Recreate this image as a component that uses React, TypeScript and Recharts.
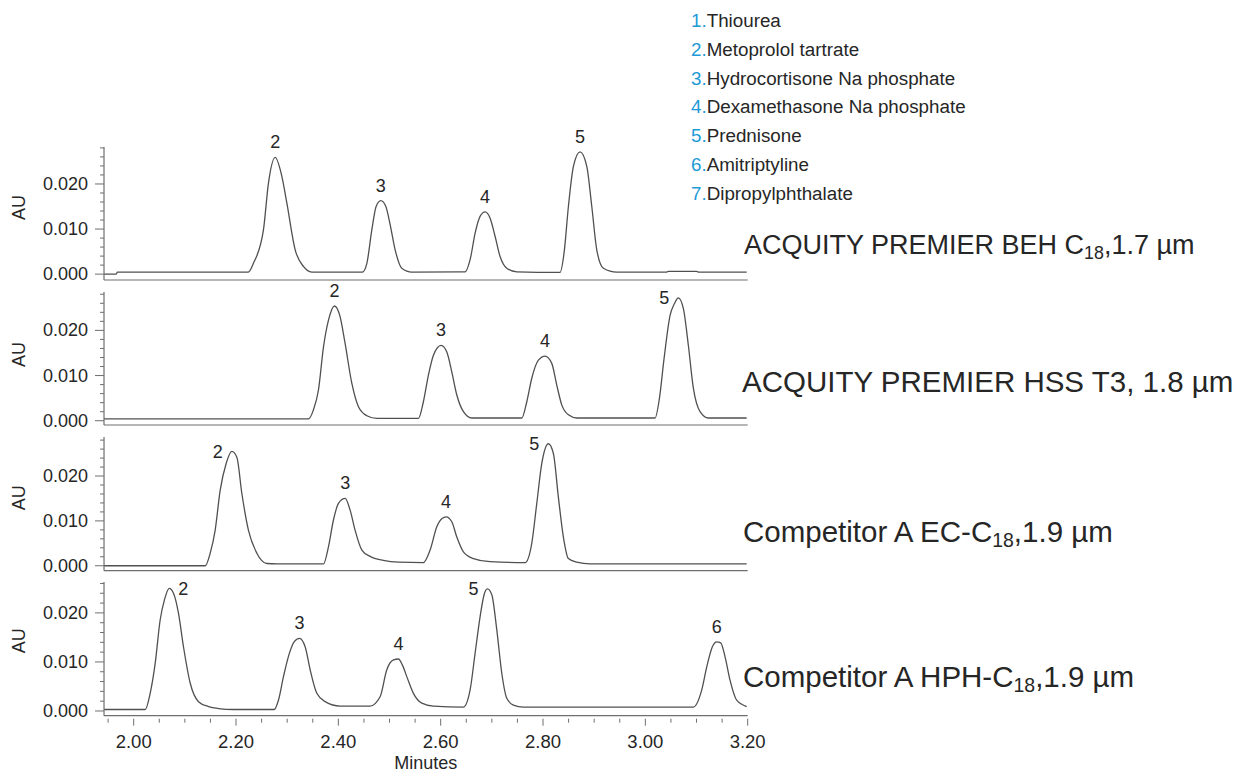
import { LineChart, Line, XAxis, YAxis, ReferenceDot, Label } from 'recharts';

// retention time axis (minutes)
const timeDomain = [1.942, 3.2];
const timeMajor = [2.0, 2.2, 2.4, 2.6, 2.8, 3.0, 3.2];
const timeTicks = [
  1.95, 2.0, 2.05, 2.1, 2.15, 2.2, 2.25, 2.3, 2.35, 2.4, 2.45, 2.5, 2.55, 2.6, 2.65,
  2.7, 2.75, 2.8, 2.85, 2.9, 2.95, 3.0, 3.05, 3.1, 3.15, 3.2,
];

// absorbance axis (AU)
const auMajor = [0, 0.01, 0.02];
const auTicks = [0, 0.002, 0.004, 0.006, 0.008, 0.01, 0.012, 0.014, 0.016, 0.018, 0.02, 0.022, 0.024, 0.026, 0.028];

const compounds = [
  'Thiourea',
  'Metoprolol tartrate',
  'Hydrocortisone Na phosphate',
  'Dexamethasone Na phosphate',
  'Prednisone',
  'Amitriptyline',
  'Dipropylphthalate',
];

// traces: [minutes, AU]
const behTrace = [
  [1.942, 0.0], [1.966, 0.0], [1.968, 0.00044], [2.224, 0.00044], [2.234, 0.0024], [2.2536, 0.0098],
  [2.2634, 0.0202], [2.2765, 0.0259], [2.2896, 0.0217], [2.2993, 0.0158], [2.3156, 0.0054], [2.3318, 0.0017],
  [2.348, 0.00044], [2.447, 0.00044], [2.4557, 0.0024], [2.4654, 0.0098], [2.4738, 0.015], [2.483, 0.0163],
  [2.4928, 0.015], [2.5012, 0.011], [2.511, 0.0054], [2.524, 0.0013], [2.5436, 0.00044], [2.6477, 0.0005],
  [2.6575, 0.0032], [2.6673, 0.0091], [2.677, 0.0128], [2.6868, 0.0138], [2.6966, 0.0124], [2.7063, 0.0084],
  [2.7161, 0.0039], [2.7292, 0.0013], [2.7487, 0.0005], [2.79, 0.0004], [2.8333, 0.0004], [2.8411, 0.0047],
  [2.8496, 0.015], [2.8594, 0.0239], [2.8724, 0.0271], [2.8855, 0.0239], [2.8953, 0.015], [2.905, 0.0054],
  [2.918, 0.0013], [2.9441, 0.00044], [3.04, 0.00044], [3.045, 0.0006], [3.1, 0.0006], [3.105, 0.00044],
  [3.198, 0.00044],
];

const hssTrace = [
  [1.942, 0.0004], [2.3416, 0.0004], [2.3513, 0.0024], [2.3611, 0.0068], [2.3709, 0.0163], [2.3806, 0.0222],
  [2.3924, 0.0254], [2.4035, 0.023], [2.4132, 0.0171], [2.4263, 0.0083], [2.4393, 0.0031], [2.4557, 0.0011],
  [2.475, 0.0005], [2.5565, 0.0005], [2.5662, 0.0042], [2.576, 0.0101], [2.5858, 0.0145], [2.6008, 0.0167],
  [2.612, 0.0152], [2.6217, 0.0108], [2.6315, 0.0057], [2.6445, 0.002], [2.6608, 0.0006], [2.7585, 0.0006],
  [2.7683, 0.0042], [2.778, 0.0094], [2.791, 0.0134], [2.804, 0.0143], [2.8171, 0.0127], [2.8268, 0.0079],
  [2.8366, 0.0035], [2.8496, 0.0013], [2.866, 0.0006], [3.019, 0.0006], [3.0274, 0.0049], [3.0366, 0.0138],
  [3.0483, 0.0233], [3.0567, 0.0259], [3.0645, 0.0272], [3.0743, 0.0248], [3.084, 0.0167], [3.0938, 0.0072],
  [3.1069, 0.002], [3.123, 0.0006], [3.198, 0.0006],
];

const ecTrace = [
  [1.942, 0.0], [2.1397, 0.0], [2.1495, 0.0028], [2.1592, 0.0079], [2.169, 0.0168], [2.1807, 0.0228],
  [2.1918, 0.0255], [2.2016, 0.0242], [2.2114, 0.0161], [2.2243, 0.0079], [2.2407, 0.0028], [2.2603, 0.0005],
  [2.2798, 0.0004], [2.3709, 0.0004], [2.3806, 0.0042], [2.3904, 0.0102], [2.4002, 0.0139], [2.4133, 0.015],
  [2.423, 0.0124], [2.4328, 0.0079], [2.4459, 0.0035], [2.462, 0.0021], [2.488, 0.0012], [2.5174, 0.0008],
  [2.5662, 0.0007], [2.5793, 0.0035], [2.5924, 0.0087], [2.6022, 0.0105], [2.6106, 0.0109], [2.6217, 0.0098],
  [2.6315, 0.0064], [2.6444, 0.0031], [2.664, 0.0016], [2.6966, 0.0009], [2.765, 0.0007], [2.778, 0.005],
  [2.7878, 0.0139], [2.7976, 0.0228], [2.8105, 0.0272], [2.8203, 0.025], [2.83, 0.0153], [2.8398, 0.0064],
  [2.8496, 0.0016], [2.866, 0.0008], [2.892, 0.0004], [3.198, 0.0004],
];

const hphTrace = [
  [1.942, 0.0003], [2.0225, 0.0003], [2.0322, 0.0036], [2.042, 0.0097], [2.0518, 0.0186], [2.0602, 0.0227],
  [2.0694, 0.025], [2.0778, 0.024], [2.0876, 0.0199], [2.0973, 0.0131], [2.1104, 0.0057], [2.1266, 0.0019],
  [2.1462, 0.0009], [2.1657, 0.0005], [2.195, 0.0003], [2.2745, 0.0003], [2.2829, 0.0022], [2.2927, 0.007],
  [2.3044, 0.0118], [2.3136, 0.0141], [2.324, 0.0148], [2.3351, 0.0131], [2.3449, 0.0084], [2.3579, 0.0036],
  [2.3742, 0.0019], [2.4035, 0.001], [2.462, 0.001], [2.4816, 0.0029], [2.4947, 0.0084], [2.5077, 0.0104],
  [2.5174, 0.0106], [2.525, 0.0094], [2.5345, 0.0068], [2.5467, 0.0036], [2.5631, 0.0016], [2.5858, 0.001],
  [2.6444, 0.0008], [2.6575, 0.0043], [2.6673, 0.0118], [2.677, 0.0192], [2.6848, 0.0237], [2.6913, 0.0249],
  [2.6999, 0.0237], [2.7097, 0.0165], [2.7194, 0.0077], [2.7292, 0.0026], [2.7421, 0.0012], [2.7617, 0.0008],
  [3.0938, 0.0008], [3.1102, 0.0043], [3.12, 0.009], [3.131, 0.0131], [3.1395, 0.0141], [3.1473, 0.0139],
  [3.1557, 0.0111], [3.1655, 0.0063], [3.1785, 0.0022], [3.1981, 0.0009],
];

// peak numbers at their apex: [label, minutes, AU]
const behPeaks = [['2', 2.2765, 0.0259], ['3', 2.483, 0.0163], ['4', 2.6868, 0.0138], ['5', 2.8724, 0.0271]];
const hssPeaks = [['2', 2.3924, 0.0254], ['3', 2.6008, 0.0167], ['4', 2.804, 0.0143], ['5', 3.0645, 0.0272]];
const ecPeaks = [['2', 2.1918, 0.0255], ['3', 2.4133, 0.015], ['4', 2.6106, 0.0109], ['5', 2.8105, 0.0272]];
const hphPeaks = [
  ['2', 2.0694, 0.025], ['3', 2.324, 0.0148], ['4', 2.5174, 0.0106], ['5', 2.6913, 0.0249], ['6', 3.1395, 0.0141],
];

const FONT = '"Liberation Sans", Arial, Helvetica, sans-serif';
const INK = '#262626';
const TRACE = '#505050';
const AXIS = '#6e6e6e';
const BLUE = '#1d9ad6';
const TOP_PAD = 24;
const CHART_W = 800;
const PLOT_RIGHT = 747.7;

const panels = [
  {
    trace: behTrace, peaks: behPeaks, sides: ['top', 'top', 'top', 'top'],
    plotTop: 147, plotH: 133, yDomain: [-0.0013, 0.0282], auShift: -6,
    name: ['ACQUITY PREMIER BEH C', '18', ',1.7 µm'], nameX: 744, nameY: 254, nameSize: 27,
  },
  {
    trace: hssTrace, peaks: hssPeaks, sides: ['top', 'top', 'top', 'left'],
    plotTop: 292, plotH: 133, yDomain: [-0.00095, 0.0285], auShift: -4,
    name: ['ACQUITY PREMIER HSS T3, 1.8 µm'], nameX: 742, nameY: 392, nameSize: 29.5,
  },
  {
    trace: ecTrace, peaks: ecPeaks, sides: ['left', 'top', 'top', 'left'],
    plotTop: 437, plotH: 133.7, yDomain: [-0.0011, 0.0287], auShift: -6,
    name: ['Competitor A EC-C', '18', ',1.9 µm'], nameX: 743, nameY: 542, nameSize: 29.5,
  },
  {
    trace: hphTrace, peaks: hphPeaks, sides: ['right', 'top', 'top', 'left', 'top'],
    plotTop: 582, plotH: 133.7, yDomain: [-0.00096, 0.0263], auShift: -8, showTime: true,
    name: ['Competitor A HPH-C', '18', ',1.9 µm'], nameX: 743, nameY: 687, nameSize: 29.5,
  },
];

const near = (list, v) => list.some((m) => Math.abs(m - v) < 1e-6);

const TimeTick = ({ x, y, payload }) => {
  const major = near(timeMajor, payload.value);
  return (
    <g>
      <line x1={x} x2={x} y1={y + 3} y2={y + (major ? 10 : 7)} stroke={AXIS} strokeWidth={1} />
      {major && (
        <text x={x} y={y + 26} textAnchor="middle" dominantBaseline="central" fontSize={18.5} fill={INK} fontFamily={FONT}>
          {payload.value.toFixed(2)}
        </text>
      )}
    </g>
  );
};

const AuTick = ({ x, y, payload }) => {
  const major = near(auMajor, payload.value);
  return (
    <g>
      <line x1={x - (major ? 9 : 4)} x2={x} y1={y} y2={y} stroke={AXIS} strokeWidth={1} />
      {major && (
        <text x={x - 16} y={y} textAnchor="end" dominantBaseline="central" fontSize={18} fill={INK} fontFamily={FONT}>
          {payload.value.toFixed(3)}
        </text>
      )}
    </g>
  );
};

const Panel = ({ cfg }) => {
  const data = cfg.trace.map(([t, au]) => ({ t, au }));
  const xH = cfg.showTime ? 62 : 12;
  const yTicks = auTicks.filter((v) => v <= cfg.yDomain[1]);
  return (
    <div style={{ position: 'absolute', left: 0, top: cfg.plotTop - TOP_PAD }}>
      <LineChart
        width={CHART_W}
        height={TOP_PAD + cfg.plotH + xH}
        data={data}
        margin={{ top: TOP_PAD, right: CHART_W - PLOT_RIGHT, bottom: 0, left: 0 }}
      >
        <XAxis
          dataKey="t"
          type="number"
          domain={timeDomain}
          allowDataOverflow
          ticks={cfg.showTime ? timeTicks : []}
          interval={0}
          height={xH}
          tickSize={0}
          tickMargin={0}
          tickLine={false}
          tick={cfg.showTime ? (p) => <TimeTick {...p} /> : false}
          axisLine={{ stroke: AXIS, strokeWidth: 1.2 }}
        >
          {cfg.showTime && (
            <Label
              content={({ viewBox }) => (
                <text
                  x={viewBox.x + viewBox.width / 2}
                  y={viewBox.y + 47}
                  textAnchor="middle"
                  dominantBaseline="central"
                  fontSize={18}
                  fill={INK}
                  fontFamily={FONT}
                >
                  Minutes
                </text>
              )}
            />
          )}
        </XAxis>
        <YAxis
          type="number"
          domain={cfg.yDomain}
          allowDataOverflow
          ticks={yTicks}
          interval={0}
          width={104}
          tickSize={0}
          tickMargin={0}
          tickLine={false}
          tick={(p) => <AuTick {...p} />}
          axisLine={{ stroke: AXIS, strokeWidth: 1.2 }}
        >
          <Label
            content={({ viewBox }) => {
              const cy = viewBox.y + viewBox.height / 2 + cfg.auShift;
              return (
                <text
                  x={19}
                  y={cy}
                  transform={`rotate(-90 19 ${cy})`}
                  textAnchor="middle"
                  dominantBaseline="central"
                  fontSize={18}
                  fill={INK}
                  fontFamily={FONT}
                >
                  AU
                </text>
              );
            }}
          />
        </YAxis>
        <Line
          type="monotone"
          dataKey="au"
          stroke={TRACE}
          strokeWidth={1.3}
          dot={false}
          isAnimationActive={false}
        />
        {cfg.peaks.map(([label, t, au], i) => (
          <ReferenceDot
            key={label}
            x={t}
            y={au}
            r={0}
            fill="none"
            stroke="none"
            ifOverflow="visible"
            label={{
              value: label,
              position: cfg.sides[i],
              offset: 9,
              fill: INK,
              fontSize: 18,
              fontFamily: FONT,
            }}
          />
        ))}
      </LineChart>
    </div>
  );
};

export default function App() {
  return (
    <div style={{ position: 'absolute', left: 0, top: 0, width: 1246, height: 778, background: '#fff', overflow: 'hidden' }}>
      {panels.map((cfg, i) => (
        <Panel key={i} cfg={cfg} />
      ))}
      <svg width={1246} height={778} style={{ position: 'absolute', left: 0, top: 0, pointerEvents: 'none' }}>
        {compounds.map((name, i) => (
          <text key={name} x={691} y={26.7 + i * 28.9} fontSize={18.8} fontFamily={FONT} fill={INK}>
            <tspan fill={BLUE}>{`${i + 1}.`}</tspan>
            <tspan>{name}</tspan>
          </text>
        ))}
        {panels.map((cfg, i) => (
          <text key={i} x={cfg.nameX} y={cfg.nameY} fontSize={cfg.nameSize} fontFamily={FONT} fill={INK}>
            <tspan>{cfg.name[0]}</tspan>
            {cfg.name[1] && (
              <tspan fontSize={cfg.nameSize * 0.66} dy={5}>
                {cfg.name[1]}
              </tspan>
            )}
            {cfg.name[2] && <tspan dy={-5}>{cfg.name[2]}</tspan>}
          </text>
        ))}
      </svg>
    </div>
  );
}
